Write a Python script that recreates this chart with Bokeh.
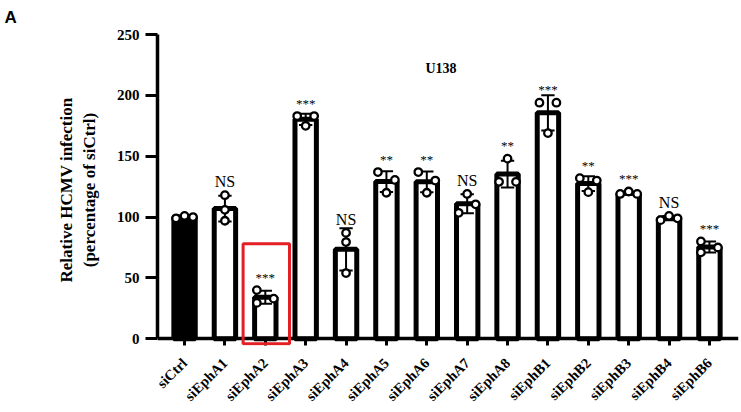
import numpy as np
from bokeh.plotting import figure
from bokeh.models import (ColumnDataSource, FixedTicker, Label, BoxAnnotation, Range1d,
                          LinearAxis)
from bokeh.core.properties import value
from bokeh.embed import file_html
from bokeh.resources import INLINE

# ---------------- data ----------------
categories = ["siCtrl", "siEphA1", "siEphA2", "siEphA3", "siEphA4", "siEphA5", "siEphA6",
              "siEphA7", "siEphA8", "siEphB1", "siEphB2", "siEphB3", "siEphB4", "siEphB6"]
rep1 = [99, 118, 40, 183, 87, 137, 137, 119, 129, 194, 132, 119, 97.5, 80]
rep2 = [101, 106, 33, 175, 79.5, 130.5, 130, 103.5, 148, 169, 120.5, 121, 101, 71]
rep3 = [100, 97, 29.5, 183, 54, 120, 120, 110.5, 129, 194, 130, 119, 99, 75]
signif = ["", "NS", "***", "***", "NS", "**", "**", "NS", "**", "***", "**", "***", "NS", "***"]
y_ticks = [0, 50, 100, 150, 200, 250]
highlight = "siEphA2"
chart_title = "U138"
panel_letter = "A"
y_title = "Relative HCMV infection\n(percentage of siCtrl)"

SERIF = value("Liberation Serif")

reps = np.array([rep1, rep2, rep3], dtype=float).T  # (n_cat, 3)
idx = np.arange(len(categories))
means = reps.mean(axis=1)
sds = reps.std(axis=1, ddof=1)


def swarm(vals, thr=7.2, d=0.21):
    n = len(vals)
    order = sorted(range(n), key=lambda i: vals[i])
    clusters, cur = [], [order[0]]
    for a, b in zip(order[:-1], order[1:]):
        if vals[b] - vals[a] < thr:
            cur.append(b)
        else:
            clusters.append(cur)
            cur = [b]
    clusters.append(cur)
    off = [0.0] * n
    for c in clusters:
        if len(c) == 2:
            a, b = sorted(c)
            off[a], off[b] = -d, d
        elif len(c) == 3:
            lo, mid, hi = c
            if vals[hi] - vals[lo] >= thr:
                off[mid], off[lo], off[hi] = d, -d, -d
            else:
                for k, i in enumerate(sorted(c)):
                    off[i] = (k - 1) * d
    return off


px, py = [], []
for i in idx:
    off = swarm(list(reps[i]))
    for j in range(reps.shape[1]):
        px.append(i + off[j])
        py.append(reps[i, j])

bar_src = ColumnDataSource(dict(
    x=idx, top=means,
    fill=["black" if k == 0 else "white" for k in idx]))
err_src = ColumnDataSource(dict(
    x=idx, lo=means - sds, hi=means + sds,
    cl=idx - 0.165, cr=idx + 0.165))
pt_src = ColumnDataSource(dict(x=px, y=py))

tops = reps.max(axis=1)
ns_src = ColumnDataSource(dict(
    x=[i for i in idx if signif[i] == "NS"],
    y=[tops[i] for i in idx if signif[i] == "NS"],
    t=[signif[i] for i in idx if signif[i] == "NS"]))
st_src = ColumnDataSource(dict(
    x=[i for i in idx if signif[i].startswith("*")],
    y=[tops[i] for i in idx if signif[i].startswith("*")],
    t=[signif[i] for i in idx if signif[i].startswith("*")]))

# ---------------- figure ----------------
p = figure(width=741, height=412, output_backend="svg", toolbar_location=None,
           x_range=Range1d(-0.67, len(categories) - 0.28),
           y_range=Range1d(-5.5, 250),
           min_border_left=157, min_border_right=3, min_border_top=34,
           min_border_bottom=64)
p.outline_line_color = None
p.xgrid.visible = False
p.ygrid.visible = False
p.background_fill_color = "white"
p.border_fill_color = "white"

p.title.text = panel_letter
p.title.align = "left"
p.title.offset = -153
p.title.vertical_align = "top"
p.title.text_font = "Liberation Sans"
p.title.text_font_style = "bold"
p.title.text_font_size = "17px"
p.title.text_color = "black"
p.title.standoff = 12

p.vbar(x="x", top="top", width=0.53, source=bar_src, fill_color="fill",
       line_color="black", line_width=5)
p.segment(x0="x", y0="lo", x1="x", y1="hi", source=err_src, line_color="black", line_width=2)
p.segment(x0="cl", y0="hi", x1="cr", y1="hi", source=err_src, line_color="black", line_width=2)
p.segment(x0="cl", y0="lo", x1="cr", y1="lo", source=err_src, line_color="black", line_width=2)
p.scatter(x="x", y="y", source=pt_src, size=7.5, fill_color="white",
          line_color="black", line_width=2.3)

p.text(x="x", y="y", text="t", source=ns_src, text_align="center",
       text_baseline="alphabetic", y_offset=-13.5, text_font=SERIF,
       text_font_size="16px", text_color="black")
p.text(x="x", y="y", text="t", source=st_src, text_align="center",
       text_baseline="alphabetic", y_offset=-13, text_font=SERIF,
       text_font_size="13px", text_color="black")

# highlight box
h = categories.index(highlight)
p.add_layout(BoxAnnotation(left=h - 0.55, right=h + 0.6, bottom=-4.1, top=78,
                           fill_alpha=0, line_color="#e31e24", line_alpha=1.0,
                           line_width=3))

# axes
for ax in (p.xaxis[0], p.yaxis[0]):
    ax.axis_line_width = 3.5
    ax.axis_line_color = "black"
    ax.major_tick_line_width = 3
    ax.major_tick_line_color = "black"
    ax.major_tick_in = 0
    ax.minor_tick_line_color = None
    ax.major_label_text_font = "Liberation Serif"
    ax.major_label_text_font_style = "bold"
    ax.major_label_text_color = "black"

xticker = FixedTicker(ticks=list(idx))
xlabels = {int(i): c for i, c in zip(idx, categories)}

# x axis line + ticks, pinned at y = 0 (its labels are drawn by the axis below)
xa = p.xaxis[0]
xa.fixed_location = 0
xa.ticker = xticker
xa.major_tick_out = 11
xa.major_label_overrides = {int(i): "" for i in idx}
xa.major_label_standoff = 0

# x tick labels
lab_axis = LinearAxis(ticker=xticker, major_label_overrides=xlabels,
                      axis_line_color=None, major_tick_line_color=None,
                      minor_tick_line_color=None, major_tick_in=0, major_tick_out=0,
                      major_label_orientation=np.pi / 4, major_label_standoff=15,
                      major_label_text_font="Liberation Serif",
                      major_label_text_font_style="bold",
                      major_label_text_font_size="14.5px",
                      major_label_text_color="black")
p.add_layout(lab_axis, "below")

ya = p.yaxis[0]
ya.bounds = (0, 250)
ya.ticker = FixedTicker(ticks=y_ticks)
ya.major_tick_out = 12
ya.major_label_text_font_size = "15px"
ya.major_label_standoff = 6
ya.axis_label = y_title
ya.axis_label_text_font = "Liberation Serif"
ya.axis_label_text_font_style = "bold"
ya.axis_label_text_font_size = "17px"
ya.axis_label_text_color = "black"
ya.axis_label_standoff = 15

# title inside plot
p.add_layout(Label(x=(len(categories) - 1) / 2 - 0.15, y=222, text=chart_title,
                   text_font="Liberation Serif", text_font_style="bold",
                   text_font_size="14px", text_align="center", text_baseline="middle",
                   text_color="black"))

open("out.html", "w").write(file_html(p, INLINE))
